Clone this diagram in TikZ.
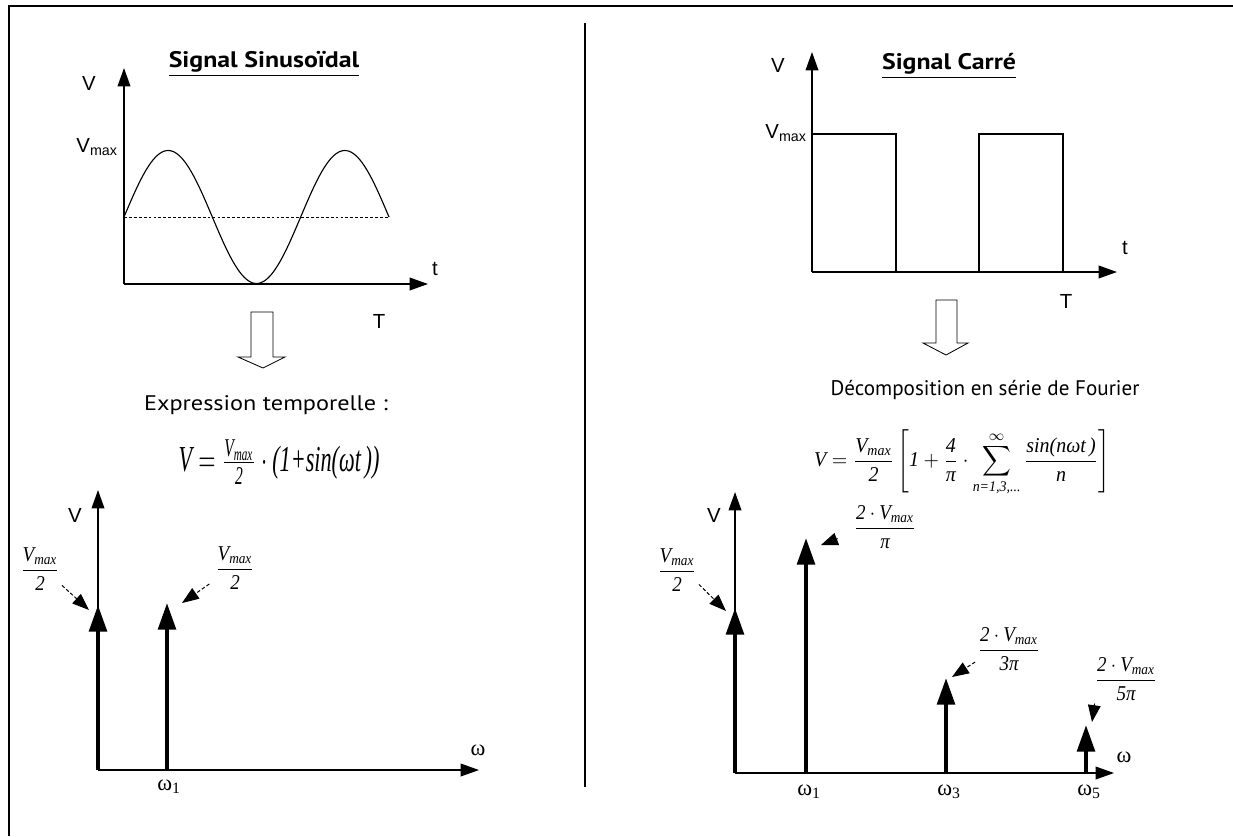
\documentclass[tikz,border=0pt]{standalone}
\usepackage{amsmath}
\usepackage{graphicx}
\usepackage{fontspec}
\setmainfont{PT Sans}
\newfontfamily\hdf[FakeStretch=1.15]{PT Sans}
\newfontfamily\arl{Liberation Sans}
\newfontfamily\tms{Liberation Serif}
\usetikzlibrary{arrows.meta,positioning}
\newcommand{\ti}[1]{\text{\tms\itshape #1}}
\newcommand{\vmx}{\ti{V}_{\ti{max}}}
\newcommand{\frbox}[1]{\scalebox{1.35}[1.5]{$\displaystyle #1$}}
\begin{document}
\begin{tikzpicture}[x=0.025cm,y=-0.025cm]
  \tikzset{
    axis/.style={line width=1pt,-{Triangle[length=13pt,width=9pt]}},
    spike/.style={line width=3pt,-{Triangle[length=19pt,width=12.5pt]}},
    pointer/.style={dash pattern=on 2.5pt off 1.5pt,line width=0.7pt,shorten <=2pt,-{Triangle[length=12pt,width=9pt]}},
    lbl/.style={font=\arl\fontsize{14.5}{16}\selectfont,inner sep=0pt,anchor=base},
    wlbl/.style={font=\tms\fontsize{16}{18}\selectfont,inner sep=0pt,anchor=base},
    title/.style={font=\hdf\bfseries\fontsize{16}{19}\selectfont,inner sep=0pt,anchor=base},
    caption/.style={font=\hdf\fontsize{15}{18}\selectfont,inner sep=0pt,anchor=base},
    formula/.style={inner sep=0pt},
    hollow/.style={draw,line width=0.6pt,fill=white}
  }
  \useasboundingbox (0,0) rectangle (1233,836);
  \draw[line width=2pt] (9,836) -- (9,6) -- (1233,6);
  \draw[line width=1.4pt] (585,23) -- (585,787);

  % sinus
  \node[title] (sintitle) at (264,67) {\underline{Signal Sinusoïdal}};
  \coordinate (so) at (124,284);
  \draw[axis] (so) -- (124,68);
  \draw[axis] (so) -- (428,284);
  \node[lbl] (sv) at (89,90) {V};
  \node[lbl,anchor=base east] (svmax) at (118,152) {V\textsubscript{max}};
  \node[lbl] (st) at (435,275) {t};
  \node[lbl] (sT) at (379,328) {T};
  \draw[line width=0.8pt] plot[domain=0:540,samples=120] ({124+\x/540*265},{217-66.5*sin(\x)});
  \draw[dash pattern=on 2pt off 1.5pt,line width=0.6pt] (124,217) -- (389,217);
  \draw[hollow] (251,312) -- (273,312) -- (273,357) -- (285,357) -- (263,368) -- (238,357) -- (251,357) -- cycle;
  \node[caption] (sincap) at (266,410) {Expression temporelle :};
  \node[formula] (sineq) at (279,462) {\scalebox{1.58}[2.6]{$\ti{V}=\frac{\vmx}{\ti{2}}\cdot\ti{(1+sin(ωt\,))}$}};

  \coordinate (po) at (98,770);
  \draw[axis] (po) -- (98,490);
  \draw[axis] (po) -- (479,770);
  \node[lbl] (pv) at (75,522) {V};
  \node[wlbl] (pw) at (478,755) {ω};
  \coordinate (pa) at (98,605);
  \coordinate (pb1) at (167,770);
  \coordinate (pb) at (167,603);
  \draw[spike] (po) -- (pa);
  \draw[spike] (pb1) -- (pb);
  \node[wlbl] (pw1) at (169,790) {ω\textsubscript{1}};
  \node[formula] (pfa) at (40,569) {\frbox{\frac{\vmx}{\ti{2}}}};
  \node[formula] (pfb) at (235,568) {\frbox{\frac{\vmx}{\ti{2}}}};
  \draw[pointer] (pfa.-36) -- (89,610);
  \draw[pointer,shorten <=5pt] (pfb.211) -- (182,603);

  % carre
  \node[title] (sqtitle) at (949,69) {\underline{Signal Carré}};
  \coordinate (qo) at (812,272);
  \draw[axis] (qo) -- (812,52);
  \draw[axis] (qo) -- (1117,272);
  \node[lbl] (qv) at (778,72) {V};
  \node[lbl,anchor=base east] (qvmax) at (807,138) {V\textsubscript{max}};
  \node[lbl] (qt) at (1125,254) {t};
  \node[lbl] (qT) at (1066,308) {T};
  \draw[line width=0.8pt] (812,134) -- (896,134) -- (896,272) -- (979,272) -- (979,134) -- (1063,134) -- (1063,272);
  \draw[hollow] (936,300) -- (957,300) -- (957,343) -- (968,343) -- (946,355) -- (923,343) -- (936,343) -- cycle;
  \node[caption,font=\fontsize{15}{18}\selectfont] (sqcap) at (985,395) {Décomposition en série de Fourier};
  \node[formula] (sqeq) at (962,463) {\scalebox{1.42}[1.5]{$\displaystyle\ti{V}=\frac{\vmx}{\ti{2}}\left[\ti{1}+\frac{\ti{4}}{\ti{π}}\cdot\sum_{\ti{n=1,3,...}}^{\infty}\frac{\ti{sin(nωt\,)}}{\ti{n}}\right]$}};

  \coordinate (fo) at (735,773);
  \draw[axis] (fo) -- (735,492);
  \draw[axis] (fo) -- (1114,773);
  \node[lbl] (fv) at (714,522) {V};
  \node[wlbl] (fw) at (1124,762) {ω};
  \coordinate (f0) at (735,608);
  \coordinate (f1b) at (806,773);
  \coordinate (f1) at (806,538);
  \coordinate (f3b) at (946,773);
  \coordinate (f3) at (946,678);
  \coordinate (f5b) at (1086,773);
  \coordinate (f5) at (1086,725);
  \draw[spike] (fo) -- (f0);
  \draw[spike] (f1b) -- (f1);
  \draw[spike] (f3b) -- (f3);
  \draw[spike] (f5b) -- (f5);
  \node[wlbl] (fw1) at (809,795) {ω\textsubscript{1}};
  \node[wlbl] (fw3) at (949,795) {ω\textsubscript{3}};
  \node[wlbl] (fw5) at (1089,795) {ω\textsubscript{5}};
  \node[formula] (ffa) at (677,570) {\frbox{\frac{\vmx}{\ti{2}}}};
  \node[formula] (ffb) at (885,527) {\frbox{\frac{\ti{2}\cdot\vmx}{\ti{π}}}};
  \node[formula] (ffc) at (1009,649) {\frbox{\frac{\ti{2}\cdot\vmx}{\ti{3π}}}};
  \node[formula] (ffd) at (1126,679) {\frbox{\frac{\ti{2}\cdot\vmx}{\ti{5π}}}};
  \draw[pointer] (ffa.-32) -- (726,611);
  \draw[pointer,shorten <=12pt] (ffb.190) -- (821,545);
  \draw[pointer] (ffc.200) -- (952,677);
  \draw[pointer] (ffd.215) -- (1092,722);
\end{tikzpicture}
\end{document}
